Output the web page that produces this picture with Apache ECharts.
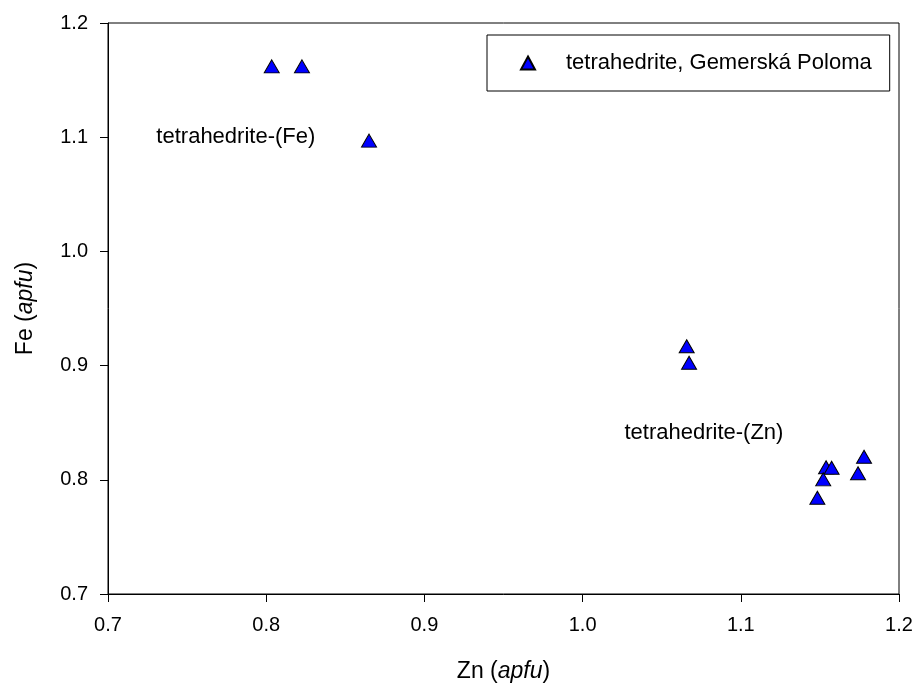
<!DOCTYPE html>
<html><head><meta charset="utf-8">
<script src="https://cdn.jsdelivr.net/npm/echarts@6/dist/echarts.min.js"></script>
<style>html,body{margin:0;padding:0;background:#fff}#c{width:917px;height:685px}</style>
</head><body><div id="c"></div>
<script>
const seriesName = 'tetrahedrite, Gemerská Poloma';
const znValues = [0.8035, 0.8226, 0.865, 1.0658, 1.0673, 1.1539, 1.1574, 1.1521, 1.1484, 1.1779, 1.1741];
const feValues = [1.162, 1.162, 1.097, 0.917, 0.9025, 0.811, 0.8106, 0.8004, 0.7843, 0.8202, 0.8057];
const xTicks = [0.7, 0.8, 0.9, 1.0, 1.1, 1.2];
const yTicks = [0.7, 0.8, 0.9, 1.0, 1.1, 1.2];
const annotationLabels = ['tetrahedrite-(Fe)', 'tetrahedrite-(Zn)'];
const annotationZn = [0.7808, 1.0767];
const annotationFe = [1.1, 0.841];

const font = '"Liberation Sans", Arial, sans-serif';
const chart = echarts.init(document.getElementById('c'), null, {renderer: 'canvas'});
const pts = znValues.map((x, i) => [x, feValues[i]]);
const ann = annotationLabels.map((t, i) => ({value: [annotationZn[i], annotationFe[i]], name: t}));
const tickFmt = ticks => v => { const t = ticks.find(k => Math.abs(k - v) < 1e-6); return t !== undefined ? t.toFixed(1) : ''; };
const titleRich = {a: {fontFamily: font, fontSize: 23, color: '#000'}, b: {fontFamily: font, fontSize: 23, fontStyle: 'italic', color: '#000'}};

chart.setOption({
  backgroundColor: '#fff',
  animation: false,
  grid: {left: 108, right: 18, top: 23, bottom: 91, containLabel: false, outerBoundsMode: 'none', show: true, borderColor: '#000', borderWidth: 1, backgroundColor: 'transparent'},
  xAxis: {
    type: 'value', min: 0.7, max: 1.2, interval: 0.1,
    name: '{a|Zn (}{b|apfu}{a|)}', nameLocation: 'middle', nameGap: 66,
    nameTextStyle: {rich: titleRich},
    axisLine: {show: true, onZero: false, lineStyle: {color: '#000', width: 1}},
    axisTick: {show: true, length: 8, lineStyle: {color: '#000'}},
    axisLabel: {margin: 21, fontFamily: font, fontSize: 20, color: '#000', formatter: tickFmt(xTicks)},
    splitLine: {show: false}
  },
  yAxis: {
    type: 'value', min: 0.7, max: 1.2, interval: 0.1,
    name: '{a|Fe (}{b|apfu}{a|)}', nameLocation: 'middle', nameGap: 71, nameRotate: 90,
    nameTextStyle: {rich: titleRich},
    axisLine: {show: true, onZero: false, lineStyle: {color: '#000', width: 1}},
    axisTick: {show: true, length: 8, lineStyle: {color: '#000'}},
    axisLabel: {margin: 20, fontFamily: font, fontSize: 20, color: '#000', formatter: tickFmt(yTicks)},
    splitLine: {show: false}
  },
  legend: {
    data: [seriesName], left: 487, top: 35,
    orient: 'horizontal',
    padding: [17, 18, 17, 33],
    borderColor: '#000', borderWidth: 1, backgroundColor: '#fff',
    itemWidth: 14, itemHeight: 13,
    textStyle: {fontFamily: font, fontSize: 22, color: '#000', padding: [0, 0, 0, 26]}
  },
  series: [
    {
      name: seriesName, type: 'scatter', data: pts,
      symbol: 'triangle', symbolSize: [15, 13],
      itemStyle: {color: '#0000ff', borderColor: '#000', borderWidth: 1, opacity: 1}
    },
    {
      name: 'annotations', type: 'scatter', data: ann,
      symbolSize: 0, silent: true,
      itemStyle: {opacity: 1},
      label: {show: true, position: 'inside', formatter: p => p.name, fontFamily: font, fontSize: 22, color: '#000', textBorderWidth: 0}
    }
  ]
});
</script></body></html>
